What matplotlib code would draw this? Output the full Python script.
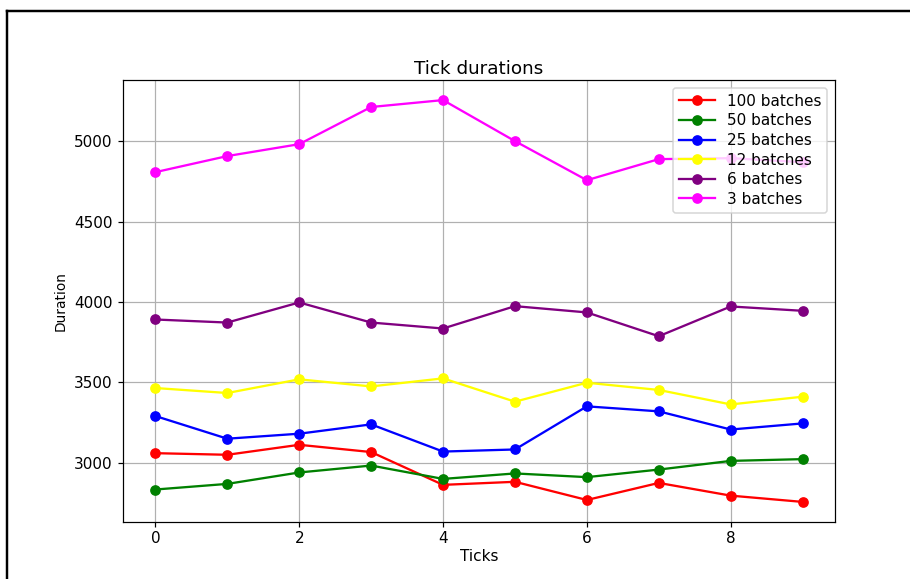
import numpy as np
import matplotlib.pyplot as plt
from matplotlib.lines import Line2D

# Tick index for every run
ticks = list(range(10))

# Measured tick durations per batch count
batches_100 = [3060, 3050, 3112, 3067, 2863, 2882, 2769, 2875, 2796, 2757]
batches_50 = [2834, 2869, 2940, 2983, 2900, 2934, 2911, 2958, 3012, 3023]
batches_25 = [3291, 3150, 3181, 3239, 3070, 3083, 3351, 3320, 3207, 3245]
batches_12 = [3465, 3434, 3519, 3475, 3525, 3380, 3498, 3453, 3363, 3411]
batches_6 = [3891, 3872, 3997, 3872, 3835, 3974, 3935, 3787, 3972, 3945]
batches_3 = [4807, 4907, 4981, 5212, 5255, 5000, 4757, 4888, 4894, 4869]

labels = ["100 batches", "50 batches", "25 batches", "12 batches", "6 batches", "3 batches"]
colors = ["red", "green", "blue", "yellow", "purple", "magenta"]

fig = plt.figure(figsize=(910 / 110, 579 / 110), dpi=110)
ax = fig.add_axes([123 / 910, 1 - 522 / 579, (835 - 123) / 910, (522 - 80) / 579])

series = [batches_100, batches_50, batches_25, batches_12, batches_6, batches_3]
for values, label, color in zip(series, labels, colors):
    ax.plot(ticks, values, marker="o", color=color, label=label)

ax.set_title("Tick durations", pad=4)
ax.set_xlabel("Ticks", labelpad=2)
ax.set_ylabel("Duration", fontsize=9)
ax.tick_params(axis="x", pad=2.5)
ax.legend(loc="upper right", labelspacing=0.3, handlelength=2.3)
ax.grid()

# black frame around the figure (left and top edges)
fig.add_artist(Line2D([6.5 / 910, 6.5 / 910], [0, 1 - 11 / 579],
                      transform=fig.transFigure, color="black", linewidth=1.6))
fig.add_artist(Line2D([6.5 / 910, 1], [1 - 11 / 579, 1 - 11 / 579],
                      transform=fig.transFigure, color="black", linewidth=1.6))

fig.savefig("out.png", dpi=110)
